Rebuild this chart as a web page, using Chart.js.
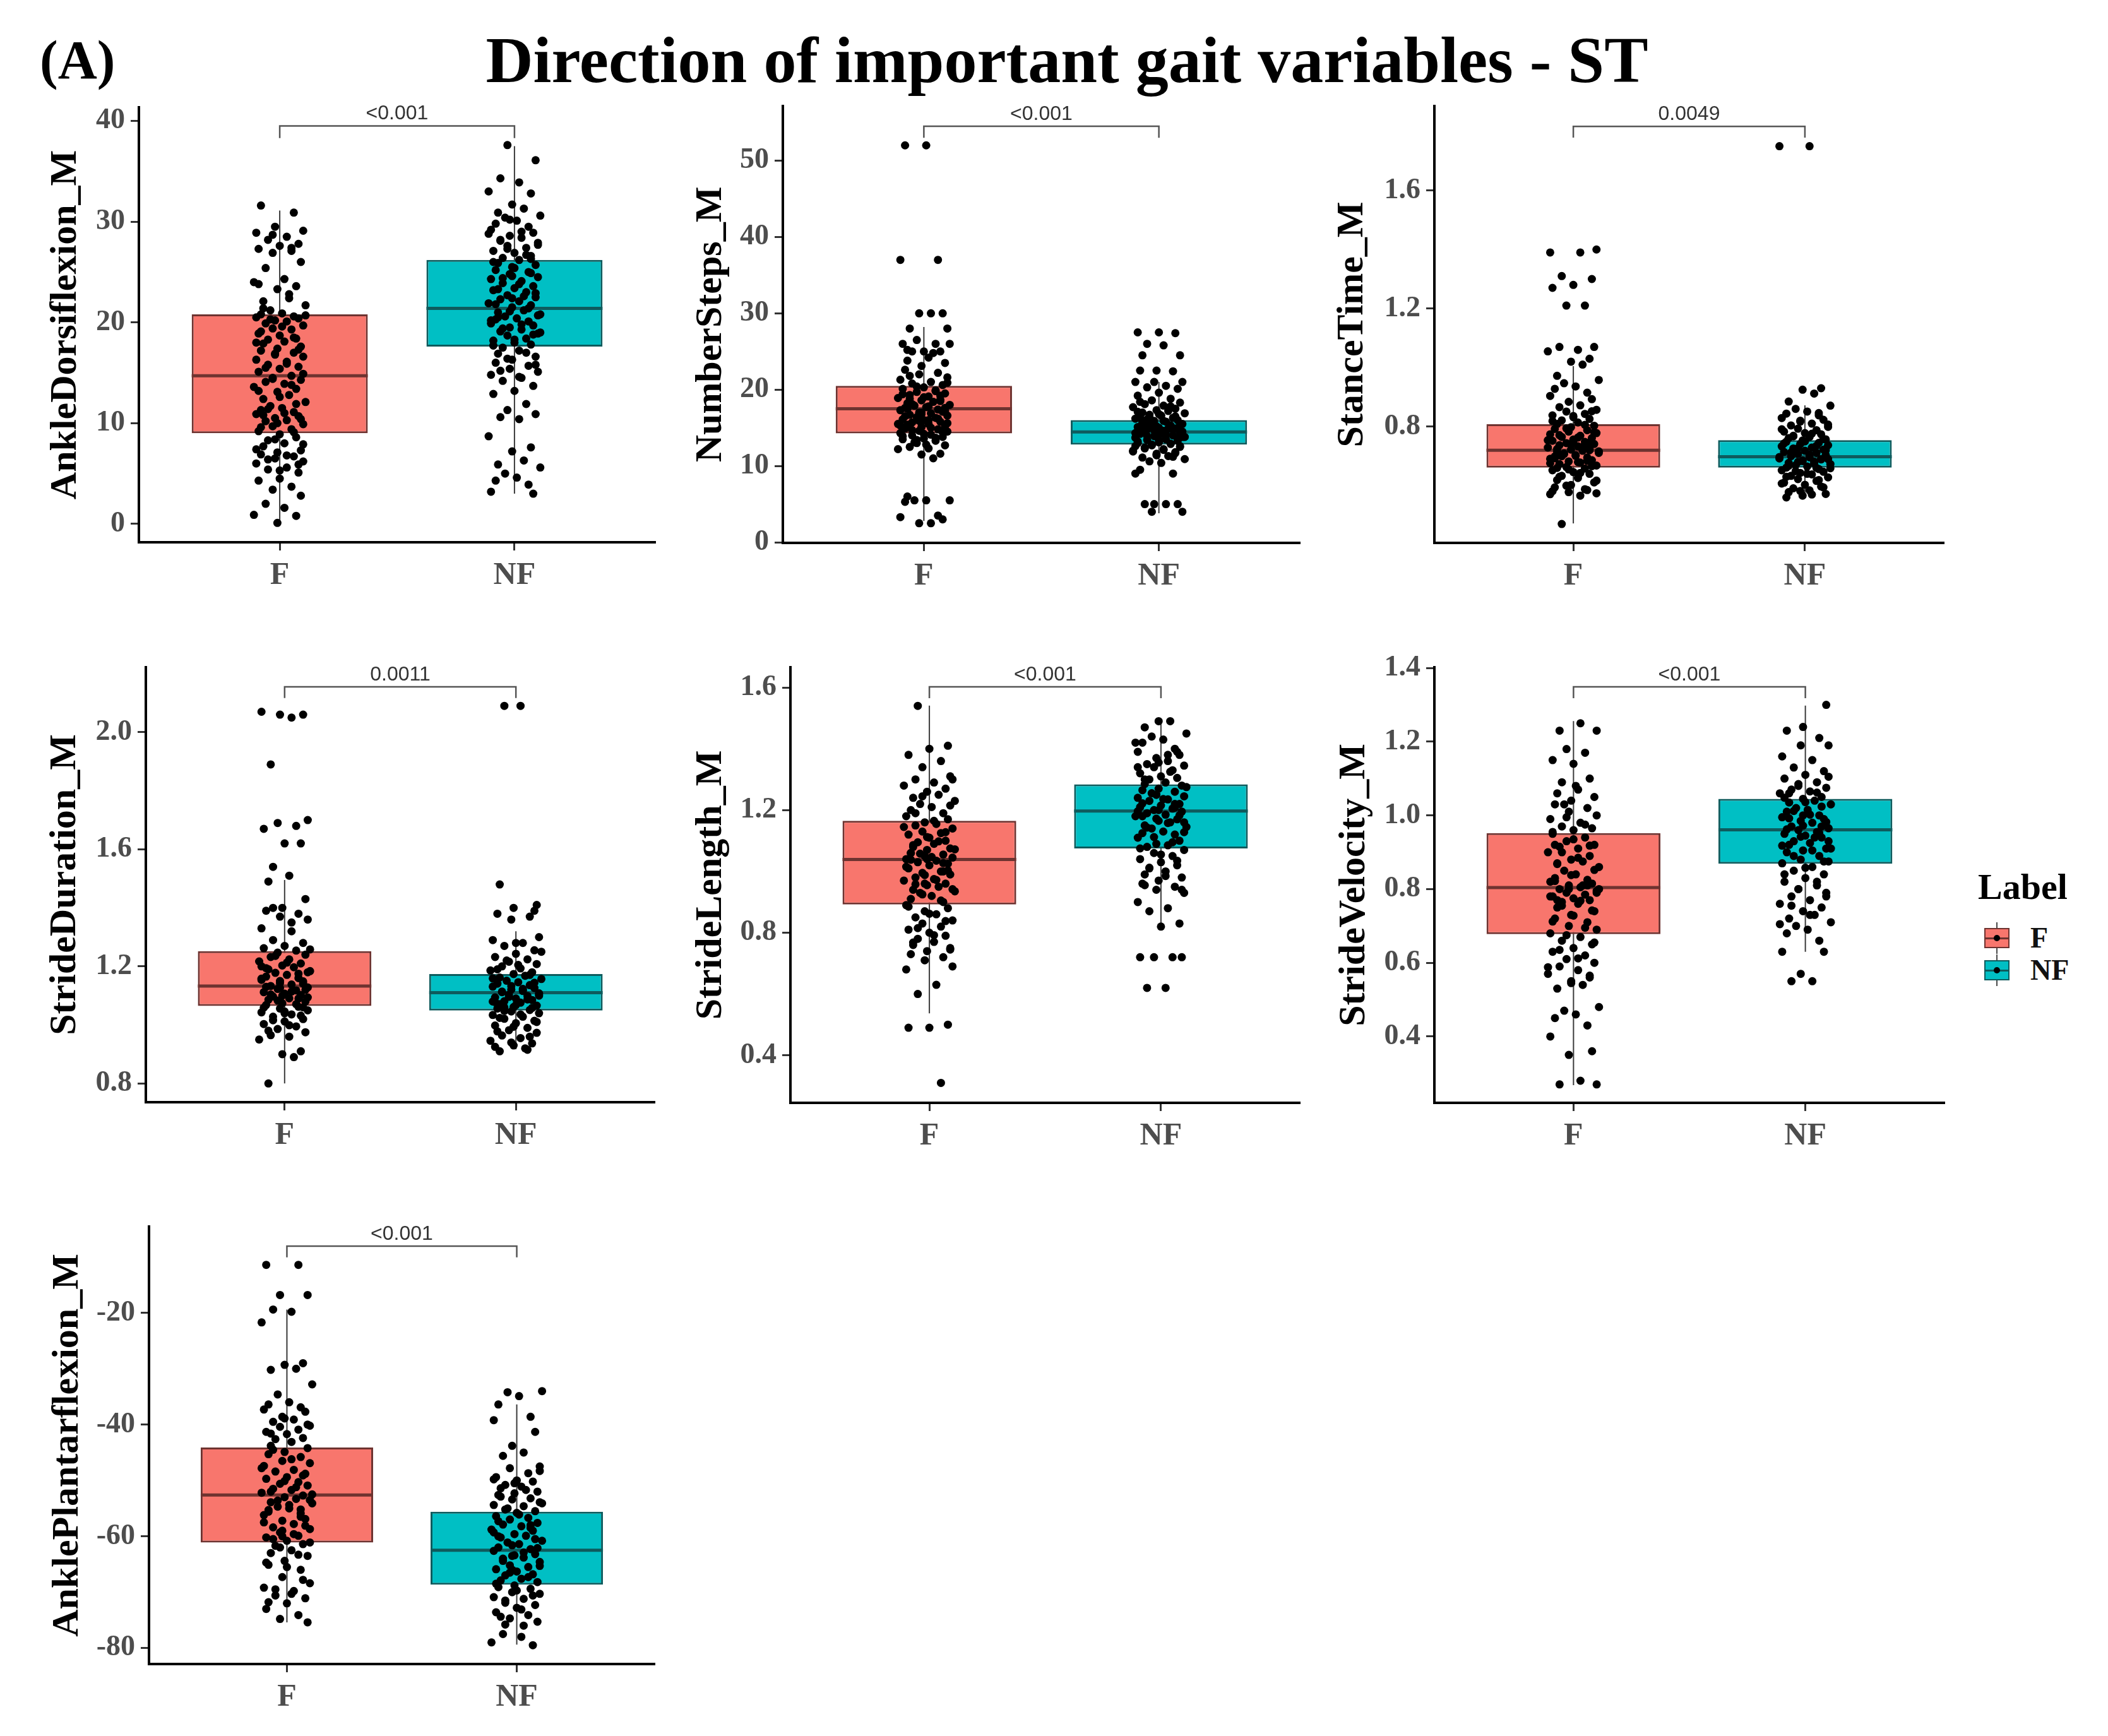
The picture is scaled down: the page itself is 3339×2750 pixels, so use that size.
<!DOCTYPE html>
<html>
<head>
<meta charset="utf-8">
<script src="https://cdn.jsdelivr.net/npm/chart.js@4.4.1/dist/chart.umd.min.js"></script>
<style>
  body { margin: 0; width: 3339px; height: 2750px; position: relative; overflow: hidden; background: #fff; font-family: "Liberation Serif", serif; }
  .abs { position: absolute; }
  #tag { left: 63px; top: 52px; font: bold 86px/1 "Liberation Serif", serif; }
  #title { left: 1690px; top: 43px; transform: translateX(-50%); font: bold 104px/1 "Liberation Serif", serif; white-space: nowrap; }
  .lg-title { font: bold 58px/1 "Liberation Serif", serif; }
  .lg-text { font: bold 46px/1 "Liberation Serif", serif; color: #111; }
</style>
</head>
<body>
<div id="tag" class="abs">(A)</div>
<div id="title" class="abs">Direction of important gait variables - ST</div>
<script>
// categories / labels
const GROUPS = ['F', 'NF'];
const VARIABLES = ['AnkleDorsiflexion_M', 'NumberSteps_M', 'StanceTime_M', 'StrideDuration_M', 'StrideLength_M', 'StrideVelocity_M', 'AnklePlantarflexion_M'];
const P_VALUES = ['<0.001', '<0.001', '0.0049', '0.0011', '<0.001', '<0.001', '<0.001'];
const Y_TICKS = [
  ['0', '10', '20', '30', '40'],
  ['0', '10', '20', '30', '40', '50'],
  ['0.8', '1.2', '1.6'],
  ['0.8', '1.2', '1.6', '2.0'],
  ['0.4', '0.8', '1.2', '1.6'],
  ['0.4', '0.6', '0.8', '1.0', '1.2', '1.4'],
  ['-80', '-60', '-40', '-20'],
];
const Y_RANGE = [[-1.82, 41.35], [-0.08, 57.15], [0.406, 1.886], [0.736, 2.222], [0.245, 1.666], [0.22, 1.402], [-82.87, -4.54]];

// box stats [lower whisker, q1, median, q3, upper whisker]
const BOX_F = [
  [0.1, 9.0, 14.7, 20.8, 31.1],
  [2.8, 14.26, 17.5, 20.5, 28.2],
  [0.472, 0.661, 0.72, 0.808, 1.005],
  [0.8, 1.065, 1.133, 1.252, 1.495],
  [0.537, 0.892, 1.039, 1.165, 1.541],
  [0.268, 0.678, 0.804, 0.952, 1.256],
  [-75.4, -61.1, -52.6, -44.1, -19.4],
];
const BOX_NF = [
  [3.0, 17.6, 21.4, 26.2, 37.5],
  [3.8, 12.8, 14.45, 16.0, 21.0],
  [0.559, 0.661, 0.698, 0.754, 0.872],
  [0.917, 1.049, 1.11, 1.174, 1.32],
  [0.818, 1.075, 1.197, 1.284, 1.487],
  [0.63, 0.869, 0.961, 1.045, 1.298],
  [-79.4, -68.65, -62.5, -55.6, -36.4],
];
// significance bracket [tick end, bar level]
const BRACKET = [[38.3, 39.5], [53.0, 54.5], [1.779, 1.817], [2.117, 2.155], [1.565, 1.602], [1.318, 1.349], [-10.04, -8.04]];

const DORSI_F = [31.6,30.9,29.5,29.1,28.9,28.5,28.2,27.8,27.6,27.3,27.1,26.9,26.0,25.4,24.3,24.0,23.6,23.3,22.8,22.1,21.7,21.2,20.9,20.8,20.6,20.5,20.4,20.2,20.1,19.9,19.7,19.4,19.3,18.9,18.7,18.4,18.3,18.1,17.9,17.6,17.4,17.2,17.0,16.8,16.6,16.3,15.9,15.8,15.6,15.4,15.1,14.7,14.5,14.3,14.1,13.9,13.6,13.4,13.1,12.8,12.4,12.1,11.7,11.5,11.3,11.1,10.9,10.7,10.5,10.3,10.2,9.9,9.7,9.4,9.2,8.9,8.6,8.3,8.0,7.7,7.3,7.1,6.9,6.7,6.5,6.2,6.0,5.6,5.4,5.1,4.5,4.3,3.7,3.4,2.8,2.0,1.6,0.9,0.8,0.1,
  22.4,21.4,20.7,20.3,19.6,19.1,18.5,18.0,17.3,16.9,16.1,15.5,14.9,14.4,13.8,13.2,12.6,11.9,11.4,11.0,10.8,10.4,10.0,9.6,9.1,8.4,7.9,7.4,6.8,6.4,5.9,5.3,23.8,27.4,28.7];
const DORSI_NF = [37.6,36.1,34.3,33.9,33.0,32.8,31.7,31.3,30.9,30.6,30.4,30.1,29.8,29.5,29.2,28.9,28.6,28.4,28.1,27.9,27.6,27.4,27.1,26.9,26.6,26.4,26.2,25.9,25.7,25.5,25.2,25.0,24.8,24.5,24.3,24.1,23.9,23.6,23.4,23.2,23.0,22.7,22.5,22.3,22.1,21.9,21.7,21.5,21.2,21.0,20.8,20.6,20.4,20.3,20.1,19.9,19.7,19.5,19.3,19.1,18.9,18.7,18.4,18.2,18.0,17.8,17.5,17.2,16.9,16.6,16.3,16.0,15.7,15.4,15.1,14.8,14.5,14.2,13.7,13.2,12.9,11.9,11.3,10.9,10.6,10.4,8.7,7.6,7.2,6.3,5.9,5.6,5.0,4.6,4.3,3.9,3.2,3.0,
  30.2,29.0,28.2,27.7,27.3,26.7,26.0,25.4,24.9,24.4,23.8,23.3,22.9,22.4,21.8,21.4,21.1,20.7,20.2,19.8,19.4,18.8,18.3,17.7,17.0,16.4,15.8,15.2,14.6,28.8,26.3,24.6,22.6,20.5,19.0];
const STEPS_F = [52,52,37,37,30,30,30,28,28,26.5,26,26,25,25,25,24.2,23.8,23.5,23.1,22.6,22.2,22,21.6,21.3,21,20.8,20.6,20.3,20.1,19.9,19.7,19.5,19.3,19.1,18.9,18.7,18.6,18.4,18.2,18,17.9,17.7,17.6,17.4,17.3,17.1,17,16.9,16.7,16.6,16.4,16.3,16.1,16,15.8,15.7,15.5,15.4,15.2,15.1,14.9,14.8,14.6,14.5,14.3,14.1,14,13.8,13.6,13.5,13.3,13,12.7,12.5,12.3,12.2,11.6,11.5,11,6,5.5,5.5,5.5,5.3,3.5,3.3,3,2.5,2.5,
  21.8,20.9,20.4,19.8,19.4,19.0,18.5,18.1,17.8,17.5,17.2,16.8,16.5,16.2,15.9,15.6,15.3,15.0,14.7,14.4,14.2,13.9,13.7,13.4,17.6,18.8,16.0,15.5,19.2,17.0,24.8,25.2,26,13.1,12.8];
const STEPS_NF = [27.5,27.5,27.4,26,25.8,24.5,24.5,22.5,22.5,22.4,21,21,21,20.5,20.3,20.1,19.6,19.2,18.8,18.6,18.3,18.1,17.9,17.7,17.5,17.3,17.2,17,16.9,16.7,16.6,16.4,16.3,16.2,16,15.9,15.8,15.6,15.5,15.4,15.3,15.1,15,14.9,14.8,14.6,14.5,14.4,14.3,14.2,14,13.9,13.8,13.7,13.5,13.4,13.3,13.1,13,12.9,12.7,12.6,12.4,12.2,12,11.8,11.6,11.3,11.1,10.9,10.6,10.4,9.5,9,9,5,5,5,5,4,4,
  17.8,17.1,16.8,16.5,16.1,15.9,15.7,15.4,15.2,15,14.8,14.7,14.5,14.3,14.1,13.9,13.6,13.4,13.2,12.9,12.8,12.5,12.3,12.1,11.9,11.7,11.4,14.9,15.6,13.8,16.4,14.2,18.4,11.2,12.6];
const STANCE_F = [1.40,1.39,1.39,1.31,1.30,1.28,1.27,1.21,1.21,1.07,1.07,1.06,1.055,1.03,1.02,1.01,0.972,0.958,0.947,0.936,0.928,0.915,0.904,0.893,0.884,0.872,0.866,0.857,0.851,0.843,0.838,0.832,0.826,0.821,0.814,0.809,0.803,0.798,0.792,0.788,0.783,0.778,0.774,0.769,0.765,0.761,0.756,0.752,0.748,0.744,0.741,0.737,0.733,0.729,0.726,0.722,0.718,0.715,0.711,0.707,0.703,0.699,0.695,0.691,0.686,0.682,0.678,0.673,0.668,0.663,0.658,0.652,0.646,0.64,0.633,0.626,0.619,0.611,0.602,0.594,0.585,0.578,0.574,0.571,0.566,0.47,
  0.852,0.836,0.819,0.806,0.794,0.781,0.771,0.763,0.754,0.746,0.738,0.731,0.724,0.716,0.709,0.701,0.693,0.684,0.676,0.666,0.655,0.643,0.63,0.617,0.6,0.588,0.581,0.75,0.72,0.7,0.68,0.66];
const STANCE_NF = [1.75,1.75,0.93,0.925,0.912,0.885,0.871,0.86,0.851,0.844,0.838,0.829,0.823,0.817,0.81,0.804,0.799,0.793,0.788,0.783,0.778,0.774,0.769,0.765,0.761,0.757,0.753,0.749,0.745,0.741,0.737,0.733,0.729,0.726,0.722,0.718,0.714,0.711,0.707,0.703,0.7,0.696,0.692,0.689,0.685,0.681,0.677,0.673,0.669,0.665,0.661,0.656,0.652,0.647,0.643,0.638,0.633,0.628,0.622,0.616,0.61,0.603,0.597,0.591,0.584,0.578,0.572,0.566,0.56,
  0.846,0.82,0.807,0.791,0.776,0.767,0.758,0.75,0.743,0.735,0.727,0.72,0.712,0.705,0.697,0.69,0.683,0.675,0.667,0.659,0.649,0.64,0.63,0.619,0.607,0.594,0.582,0.57,0.71,0.69,0.68,0.66];
const DURATION_F = [2.07,2.06,2.06,2.05,1.89,1.70,1.69,1.68,1.67,1.62,1.62,1.54,1.51,1.49,1.43,1.40,1.39,1.38,1.37,1.36,1.33,1.32,1.29,1.28,1.27,1.262,1.254,1.247,1.24,1.232,1.224,1.217,1.21,1.203,1.197,1.19,1.184,1.178,1.171,1.165,1.16,1.154,1.149,1.143,1.138,1.133,1.128,1.123,1.118,1.112,1.107,1.102,1.097,1.091,1.086,1.08,1.074,1.068,1.062,1.056,1.05,1.043,1.036,1.028,1.02,1.012,1.003,0.995,0.986,0.975,0.965,0.96,0.95,0.91,0.90,0.89,0.80,
  1.258,1.236,1.213,1.194,1.175,1.158,1.141,1.126,1.114,1.104,1.094,1.083,1.071,1.059,1.046,1.032,1.016,0.999,0.98,1.12,1.1,1.13,1.09,1.15,1.18,1.2,1.35,1.4,1.06,1.04];
const DURATION_NF = [2.09,2.09,1.48,1.41,1.40,1.38,1.37,1.36,1.30,1.29,1.28,1.27,1.255,1.243,1.232,1.224,1.216,1.208,1.2,1.193,1.186,1.18,1.174,1.168,1.162,1.157,1.151,1.146,1.141,1.136,1.131,1.126,1.121,1.116,1.112,1.108,1.103,1.099,1.094,1.09,1.085,1.081,1.076,1.071,1.066,1.061,1.056,1.051,1.046,1.04,1.034,1.028,1.021,1.014,1.006,0.998,0.99,0.982,0.973,0.964,0.955,0.946,0.937,0.93,0.92,0.91,
  1.25,1.22,1.205,1.19,1.171,1.159,1.144,1.133,1.123,1.114,1.105,1.096,1.087,1.078,1.068,1.058,1.048,1.036,1.024,1.01,0.994,0.978,0.96,0.94,1.1,1.08,1.12,1.06,1.39,1.28,0.925,0.915];
const LENGTH_F = [1.54,1.41,1.40,1.38,1.36,1.34,1.31,1.30,1.29,1.28,1.27,1.26,1.25,1.24,1.23,1.22,1.21,1.2,1.19,1.18,1.17,1.16,1.155,1.15,1.14,1.13,1.125,1.12,1.11,1.1,1.095,1.09,1.08,1.075,1.07,1.06,1.055,1.05,1.045,1.04,1.035,1.03,1.025,1.02,1.01,1.0,0.995,0.99,0.98,0.975,0.97,0.96,0.955,0.95,0.94,0.935,0.93,0.92,0.91,0.9,0.89,0.88,0.87,0.86,0.85,0.84,0.83,0.82,0.81,0.8,0.79,0.78,0.77,0.76,0.75,0.74,0.73,0.72,0.71,0.69,0.68,0.63,0.6,0.5,0.49,0.49,0.31,
  1.245,1.215,1.19,1.165,1.145,1.128,1.112,1.098,1.086,1.072,1.058,1.047,1.038,1.027,1.015,1.003,0.988,0.972,0.958,0.942,0.925,0.905,0.885,0.862,0.838,0.815,0.792,0.768,0.745,1.04,1.06,1.0,0.96,1.3];
const LENGTH_NF = [1.49,1.49,1.47,1.45,1.44,1.43,1.42,1.4,1.39,1.38,1.37,1.36,1.35,1.345,1.34,1.33,1.32,1.31,1.305,1.3,1.29,1.285,1.28,1.27,1.265,1.26,1.25,1.245,1.24,1.235,1.23,1.22,1.215,1.21,1.205,1.2,1.195,1.19,1.185,1.18,1.17,1.165,1.16,1.15,1.145,1.14,1.13,1.125,1.12,1.11,1.1,1.09,1.085,1.08,1.07,1.06,1.05,1.04,1.03,1.02,1.01,1.0,0.99,0.98,0.97,0.96,0.95,0.94,0.93,0.9,0.88,0.87,0.83,0.82,0.72,0.72,0.72,0.72,0.62,0.62,
  1.42,1.39,1.355,1.325,1.3,1.275,1.255,1.236,1.222,1.208,1.196,1.183,1.172,1.158,1.143,1.128,1.112,1.095,1.075,1.055,1.035,1.012,0.985,0.955,0.94,1.2,1.18,1.22,1.25,1.16,1.34,1.38];
const VELOCITY_F = [1.25,1.23,1.23,1.18,1.17,1.15,1.14,1.1,1.09,1.07,1.06,1.05,1.04,1.03,1.02,1.01,1.0,0.99,0.98,0.97,0.965,0.96,0.95,0.94,0.93,0.92,0.915,0.91,0.9,0.89,0.88,0.875,0.87,0.86,0.85,0.84,0.83,0.825,0.82,0.815,0.81,0.805,0.8,0.795,0.79,0.785,0.78,0.775,0.77,0.765,0.76,0.75,0.74,0.73,0.72,0.71,0.7,0.69,0.68,0.67,0.66,0.65,0.64,0.63,0.62,0.61,0.6,0.59,0.58,0.57,0.56,0.55,0.54,0.53,0.48,0.47,0.46,0.45,0.43,0.4,0.36,0.35,0.28,0.27,0.27,
  0.995,0.975,0.955,0.935,0.918,0.9,0.885,0.868,0.852,0.838,0.822,0.81,0.8,0.79,0.78,0.768,0.755,0.742,0.728,0.712,0.695,0.675,0.655,0.635,0.612,0.588,0.565,0.545,0.81,0.77,0.8,1.03,1.08,0.92];
const VELOCITY_NF = [1.3,1.24,1.23,1.21,1.19,1.19,1.16,1.15,1.13,1.12,1.11,1.1,1.09,1.08,1.075,1.07,1.065,1.06,1.05,1.045,1.04,1.035,1.03,1.02,1.015,1.01,1.0,0.995,0.99,0.985,0.98,0.97,0.965,0.96,0.955,0.95,0.945,0.94,0.93,0.925,0.92,0.91,0.905,0.9,0.89,0.88,0.875,0.87,0.86,0.85,0.84,0.83,0.82,0.81,0.8,0.79,0.78,0.77,0.76,0.75,0.74,0.73,0.72,0.71,0.7,0.69,0.68,0.66,0.63,0.63,0.57,0.55,0.55,
  1.105,1.085,1.062,1.048,1.036,1.024,1.012,1.002,0.992,0.982,0.972,0.962,0.952,0.942,0.93,0.918,0.905,0.89,0.875,0.858,0.84,0.82,0.8,0.78,0.755,0.73,0.705,0.97,1.0,0.94,1.06,0.91];
const PLANTAR_F = [-11.4,-11.4,-16.8,-16.8,-19.4,-19.8,-21.7,-29,-29.3,-30,-30.2,-32.8,-34.6,-36,-36.4,-36.9,-37.3,-37.7,-38.6,-39.1,-39.5,-40.2,-40.4,-40.9,-41.3,-41.7,-42.4,-42.6,-43.1,-43.8,-44.2,-44.9,-45.3,-45.8,-46.5,-46.9,-47.4,-48.1,-48.4,-48.8,-49.4,-49.7,-50.3,-50.6,-50.9,-51.5,-51.7,-52.2,-52.7,-53,-53.3,-53.9,-54.1,-54.7,-55,-55.3,-55.9,-56.2,-56.9,-57.2,-57.8,-58.4,-58.7,-59.3,-59.9,-60.2,-60.8,-61.4,-61.7,-62.5,-63,-63.5,-64.4,-65.1,-66,-67.3,-68.4,-69.2,-69.8,-70.6,-71.1,-72,-73,-74.1,-74.8,-75.4,
  -44.5,-46.2,-47.8,-49.1,-50.1,-51.2,-52,-52.5,-53.6,-54.4,-55.6,-56.5,-57.5,-58.1,-59,-59.6,-60.5,-61.1,-62,-63.3,-64.7,-65.5,-67.8,-69.5,-70.3,-41.6,-40,-38.9,-71.8,-55.2,-60,-53.5];
const PLANTAR_NF = [-34,-34.2,-34.9,-36.4,-38.6,-39.2,-41.3,-43.8,-45,-45.6,-47.5,-47.8,-48.7,-49.4,-50,-50.2,-50.8,-51.1,-51.4,-52,-52.3,-52.6,-53.2,-53.4,-53.9,-54.4,-54.6,-55.2,-55.5,-55.8,-56.4,-56.7,-57,-57.6,-57.9,-58.2,-58.8,-59,-59.6,-59.9,-60.2,-60.8,-61.1,-61.4,-62,-62.3,-62.6,-63.2,-63.5,-63.8,-64.4,-64.6,-65.2,-65.5,-65.9,-66.3,-66.8,-67,-67.6,-67.9,-68.2,-68.8,-69.1,-69.4,-70,-70.3,-70.9,-71.2,-71.9,-72.3,-72.8,-73.6,-74.1,-74.7,-75.3,-77.5,-78,-79,-79.5,
  -50.5,-51.7,-52.9,-54.1,-55,-56.1,-57.3,-58.5,-59.3,-60.5,-61.6,-62.9,-64,-65.3,-66.5,-67.3,-68.5,-69.7,-70.6,-71.5,-73.1,-74.4,-62.1,-63.4,-60,-58,-66,-48.3,-49.8,-76,-75.8];
const OBS_F = [DORSI_F, STEPS_F, STANCE_F, DURATION_F, LENGTH_F, VELOCITY_F, PLANTAR_F];
const OBS_NF = [DORSI_NF, STEPS_NF, STANCE_NF, DURATION_NF, LENGTH_NF, VELOCITY_NF, PLANTAR_NF];

// layout (page px): plot area [left, top, right, bottom] and y-title centre x
const PLOT_AREA = [
  [220, 170, 1038, 859], [1240, 168, 2059, 860], [2272, 168, 3079, 860],
  [231, 1057, 1037, 1746], [1252, 1057, 2059, 1747], [2272, 1057, 3080, 1747],
  [236, 1943, 1037, 2636],
];
const TITLE_X = [104, 1126, 2142, 103, 1126, 2145, 107];
// horizontal jitter of the dots (category units)
const JITTER = [-0.08,0.06,-0.02,0.1,-0.1,0.03,-0.05,0.08,0.0,-0.09,0.05,-0.03,0.09,-0.06,0.02,-0.11,0.07,-0.01,0.04,-0.07,0.11,-0.04,0.01,-0.08,0.06,-0.1,0.08,-0.02,0.03,-0.06,0.1,-0.03,0.05,-0.09,0.0,0.07,-0.05,0.02,-0.07,0.09,-0.01];

const RED = '#F8766D', TEAL = '#00BFC4';
const RED_EDGE = '#6e3330', TEAL_EDGE = '#0e5b5d';
const HALF = 0.375;
const SERIF = '"Liberation Serif", serif';

function dots(vals, c, k) {
  return vals.map((v, j) => ({ x: c + JITTER[(j + 11 * k) % JITTER.length], y: v }));
}

function panel(i) {
  const [L, T, R, B] = PLOT_AREA[i];
  const cl = TITLE_X[i] - 50, ct = T - 60;
  const cw = R + 30 - cl, ch = B + 110 - ct;
  const canvas = document.createElement('canvas');
  canvas.width = cw; canvas.height = ch;
  canvas.className = 'abs';
  canvas.style.left = cl + 'px'; canvas.style.top = ct + 'px';
  document.body.appendChild(canvas);

  const f = BOX_F[i], n = BOX_NF[i], br = BRACKET[i];
  const line = (data, color, width, order) => ({ type: 'line', data, borderColor: color, borderWidth: width, pointRadius: 0, showLine: true, fill: false, order });

  new Chart(canvas, {
    type: 'scatter',
    data: {
      datasets: [
        line([{ x: 1, y: f[0] }, { x: 1, y: f[4] }], '#3a3a3a', 2, 4),
        line([{ x: 2, y: n[0] }, { x: 2, y: n[4] }], '#3a3a3a', 2, 4),
        {
          type: 'bar', order: 3,
          data: [{ x: 1, y: [f[1], f[3]] }, { x: 2, y: [n[1], n[3]] }],
          backgroundColor: [RED, TEAL], borderColor: [RED_EDGE, TEAL_EDGE],
          borderWidth: 3, borderSkipped: false, barPercentage: 0.75, categoryPercentage: 1,
        },
        line([{ x: 1 - HALF, y: f[2] }, { x: 1 + HALF, y: f[2] }], RED_EDGE, 5, 2),
        line([{ x: 2 - HALF, y: n[2] }, { x: 2 + HALF, y: n[2] }], TEAL_EDGE, 5, 2),
        { type: 'scatter', order: 1, data: dots(OBS_F[i], 1, i * 2), pointRadius: 6.5, backgroundColor: '#000', borderWidth: 0 },
        { type: 'scatter', order: 1, data: dots(OBS_NF[i], 2, i * 2 + 1), pointRadius: 6.5, backgroundColor: '#000', borderWidth: 0 },
        line([{ x: 1, y: br[0] }, { x: 1, y: br[1] }, { x: 2, y: br[1] }, { x: 2, y: br[0] }], '#555', 2.5, 0),
      ],
    },
    options: {
      responsive: false, devicePixelRatio: 1, animation: false, events: [],
      layout: { padding: { left: 0, top: T - ct, right: cl + cw - R, bottom: 0 } },
      plugins: { legend: { display: false }, tooltip: { enabled: false } },
      scales: {
        x: {
          type: 'linear', min: 0.4, max: 2.6, bounds: 'data', offset: false,
          afterBuildTicks: s => { s.ticks = [{ value: 1 }, { value: 2 }]; },
          afterFit: s => { s.height = ct + ch - B; },
          ticks: { callback: (v, k) => GROUPS[k], font: { family: SERIF, size: 50, weight: 'bold' }, color: '#4d4d4d', padding: 10, maxRotation: 0 },
          grid: { display: true, drawOnChartArea: false, drawTicks: true, tickLength: 13, tickColor: '#333', tickWidth: 3, offset: false },
          border: { display: true, color: '#000', width: 4 },
        },
        y: {
          type: 'linear', min: Y_RANGE[i][0], max: Y_RANGE[i][1], bounds: 'data', beginAtZero: false,
          afterBuildTicks: s => { s.ticks = Y_TICKS[i].map(t => ({ value: Number(t) })); },
          afterFit: s => { s.width = L - cl; },
          ticks: { callback: (v, k) => Y_TICKS[i][k], font: { family: SERIF, size: 46, weight: 'bold' }, color: '#4d4d4d', padding: 9 },
          grid: { display: true, drawOnChartArea: false, drawTicks: true, tickLength: 13, tickColor: '#333', tickWidth: 3 },
          border: { display: true, color: '#000', width: 4 },
          title: { display: true, text: VARIABLES[i], font: { family: SERIF, size: 60, weight: 'bold' }, color: '#000', padding: { top: 14, bottom: 0 } },
        },
      },
    },
    plugins: [{
      id: 'pvalue',
      afterDatasetsDraw(chart) {
        const { ctx, scales } = chart;
        ctx.save();
        ctx.font = '32px "Liberation Sans", sans-serif';
        ctx.fillStyle = '#333';
        ctx.textAlign = 'center';
        ctx.textBaseline = 'bottom';
        ctx.fillText(P_VALUES[i], scales.x.getPixelForValue(1.5), scales.y.getPixelForValue(br[1]) - 3);
        ctx.restore();
      },
    }],
  });
}

VARIABLES.forEach((_, i) => panel(i));

// legend
const LEGEND_ROWS = [{ label: 'F', fill: RED, edge: RED_EDGE, cy: 1486 }, { label: 'NF', fill: TEAL, edge: TEAL_EDGE, cy: 1537 }];
function addDiv(css, text, cls) {
  const d = document.createElement('div');
  d.className = 'abs' + (cls ? ' ' + cls : '');
  Object.assign(d.style, css);
  if (text) d.textContent = text;
  document.body.appendChild(d);
  return d;
}
addDiv({ left: '3133px', top: '1376px' }, 'Label', 'lg-title');
LEGEND_ROWS.forEach(r => {
  const cx = 3163;
  addDiv({ left: (cx - 1) + 'px', top: (r.cy - 25) + 'px', width: '2px', height: '50px', background: '#4a4a4a' });
  addDiv({ left: (cx - 20) + 'px', top: (r.cy - 16) + 'px', width: '40px', height: '32px', boxSizing: 'border-box', background: r.fill, border: '2px solid ' + r.edge });
  addDiv({ left: (cx - 20) + 'px', top: (r.cy - 1.5) + 'px', width: '40px', height: '3px', background: r.edge });
  addDiv({ left: (cx - 5) + 'px', top: (r.cy - 5) + 'px', width: '10px', height: '10px', borderRadius: '50%', background: '#000' });
  addDiv({ left: '3216px', top: (r.cy - 23) + 'px' }, r.label, 'lg-text');
});
</script>
</body>
</html>
